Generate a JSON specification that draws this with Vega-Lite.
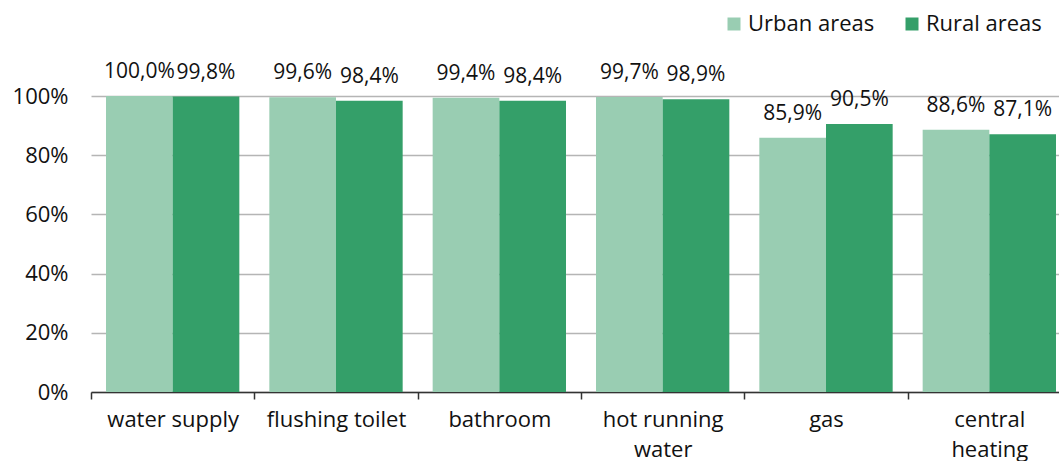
{
  "$schema": "https://vega.github.io/schema/vega-lite/v6.json",
  "width": 968,
  "height": 296,
  "autosize": {"type": "none"},
  "padding": {"left": 91, "top": 96, "right": 0, "bottom": 69},
  "data": {
    "values": [
      {"category": "water supply", "area": "Urban areas", "value": 1.0},
      {"category": "water supply", "area": "Rural areas", "value": 0.998},
      {"category": "flushing toilet", "area": "Urban areas", "value": 0.996},
      {"category": "flushing toilet", "area": "Rural areas", "value": 0.984},
      {"category": "bathroom", "area": "Urban areas", "value": 0.994},
      {"category": "bathroom", "area": "Rural areas", "value": 0.984},
      {"category": "hot running water", "area": "Urban areas", "value": 0.997},
      {"category": "hot running water", "area": "Rural areas", "value": 0.989},
      {"category": "gas", "area": "Urban areas", "value": 0.859},
      {"category": "gas", "area": "Rural areas", "value": 0.905},
      {"category": "central heating", "area": "Urban areas", "value": 0.886},
      {"category": "central heating", "area": "Rural areas", "value": 0.871}
    ]
  },
  "encoding": {
    "x": {
      "field": "category",
      "type": "nominal",
      "sort": null,
      "scale": {"range": [0, 980], "paddingInner": 0, "paddingOuter": 0},
      "axis": {
        "title": null,
        "labelAngle": 0,
        "tickBand": "extent",
        "labelFontSize": 22,
        "labelFont": "Open Sans",
        "labelColor": "#111111",
        "labelPadding": 10,
        "labelLineHeight": 30,
        "labelBaseline": "top",
        "domainColor": "#333333",
        "domainWidth": 1.5,
        "tickColor": "#333333",
        "tickWidth": 1.5,
        "tickSize": 7,
        "labelExpr": "datum.label == 'hot running water' ? ['hot running', 'water'] : datum.label == 'central heating' ? ['central', 'heating'] : datum.label"
      }
    },
    "xOffset": {
      "field": "area",
      "type": "nominal",
      "sort": ["Urban areas", "Rural areas"],
      "scale": {"paddingOuter": 0.225, "paddingInner": 0}
    },
    "y": {
      "field": "value",
      "type": "quantitative",
      "scale": {"domain": [0, 1]},
      "axis": {
        "title": null,
        "format": ".0%",
        "values": [0, 0.2, 0.4, 0.6, 0.8, 1.0],
        "domain": false,
        "ticks": false,
        "labelPadding": 23,
        "labelFontSize": 22,
        "labelFont": "Open Sans",
        "labelColor": "#111111",
        "gridColor": "#b5b5b5",
        "gridWidth": 1.5
      }
    }
  },
  "layer": [
    {
      "mark": {"type": "bar"},
      "encoding": {
        "color": {
          "field": "area",
          "type": "nominal",
          "scale": {"domain": ["Urban areas", "Rural areas"], "range": ["#99cdb2", "#349f69"]},
          "legend": {
            "title": null,
            "orient": "none",
            "legendX": 632,
            "legendY": -83,
            "direction": "horizontal",
            "symbolType": "square",
            "symbolSize": 169,
            "symbolStrokeWidth": 0,
            "labelFontSize": 22,
            "labelFont": "Open Sans",
            "labelColor": "#111111",
            "labelOffset": 3,
            "columnPadding": 26,
            "padding": 0
          }
        }
      }
    },
    {
      "mark": {"type": "text", "dy": -18, "baseline": "alphabetic", "fontSize": 21, "font": "Open Sans", "color": "#111111"},
      "encoding": {
        "text": {"field": "value", "type": "quantitative", "format": ".1%"}
      }
    }
  ],
  "config": {
    "view": {"stroke": null},
    "locale": {"number": {"decimal": ",", "thousands": ".", "grouping": [3], "currency": ["", " €"]}}
  }
}
